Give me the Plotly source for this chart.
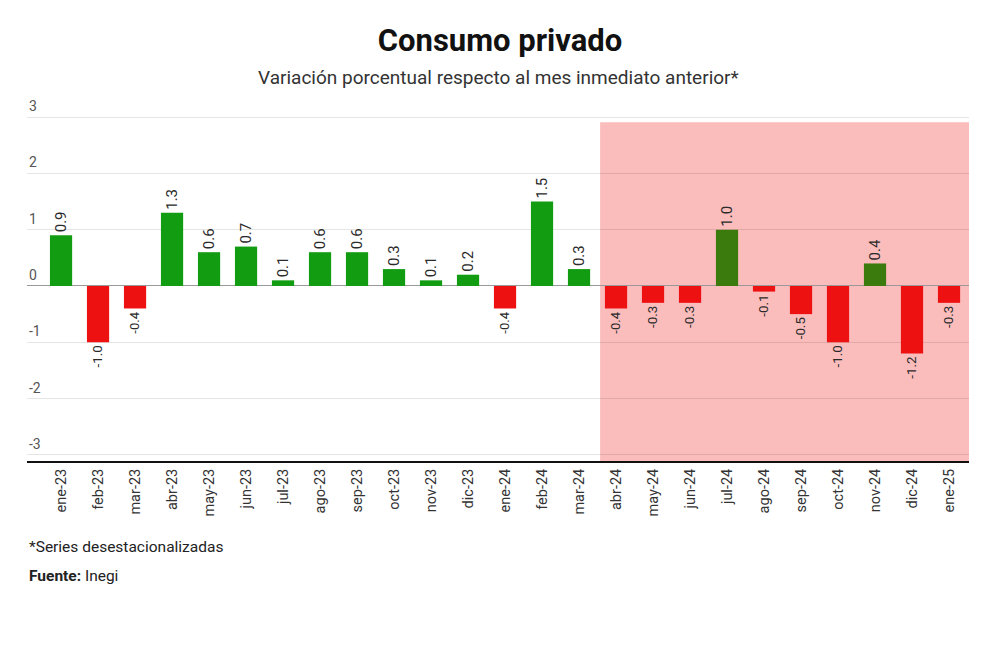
import plotly.graph_objects as go

# datos (variación % mensual, series desestacionalizadas)
meses = ["ene-23", "feb-23", "mar-23", "abr-23", "may-23", "jun-23", "jul-23",
         "ago-23", "sep-23", "oct-23", "nov-23", "dic-23", "ene-24", "feb-24",
         "mar-24", "abr-24", "may-24", "jun-24", "jul-24", "ago-24", "sep-24",
         "oct-24", "nov-24", "dic-24", "ene-25"]
variacion = [0.9, -1.0, -0.4, 1.3, 0.6, 0.7, 0.1, 0.6, 0.6, 0.3, 0.1, 0.2, -0.4,
             1.5, 0.3, -0.4, -0.3, -0.3, 1.0, -0.1, -0.5, -1.0, 0.4, -1.2, -0.3]
y_ticks = [-3, -2, -1, 0, 1, 2, 3]
inicio_sombra = "abr-24"

VERDE = "#129c12"
VERDE_OSC = "#3b7a0c"
ROJO = "#ee1111"
SOMBRA = "#fbbcbc"

i0 = meses.index(inicio_sombra)
colores = []
for i, v in enumerate(variacion):
    if v < 0:
        colores.append(ROJO)
    elif i >= i0:
        colores.append(VERDE_OSC)
    else:
        colores.append(VERDE)

fig = go.Figure()
fig.add_trace(go.Bar(
    x=list(range(len(meses))),
    y=variacion,
    marker=dict(color=colores, line=dict(width=0)),
    text=[f"{v:.1f}" for v in variacion],
    textposition="outside",
    textangle=-90,
    textfont=dict(family="Roboto", size=15, color="#2a2a2a"),
    cliponaxis=False,
    hoverinfo="skip",
))

# zona sombreada
fig.add_shape(type="rect", xref="x", yref="y",
              x0=i0 - 0.43, x1=24.54, y0=-3.11, y1=2.91,
              fillcolor=SOMBRA, line=dict(width=0), layer="below")

# etiquetas del eje y, encima de cada línea de la cuadrícula
for t in y_ticks:
    fig.add_annotation(text=str(t), xref="paper", yref="y", x=0, y=t,
                       xanchor="left", yanchor="bottom", yshift=1,
                       showarrow=False,
                       font=dict(family="Roboto", size=14, color="#555"))

fig.add_annotation(text="Variación porcentual respecto al mes inmediato anterior*",
                   xref="paper", yref="paper", x=0.5, y=1.113,
                   xanchor="center", yanchor="middle", showarrow=False,
                   font=dict(family="Roboto", size=19, color="#333"))
fig.add_annotation(text="*Series desestacionalizadas",
                   xref="paper", yref="paper", x=0, y=-0.25,
                   xanchor="left", yanchor="middle", showarrow=False,
                   font=dict(family="Roboto", size=15.5, color="#222"))
fig.add_annotation(text="<b>Fuente:</b> Inegi",
                   xref="paper", yref="paper", x=0, y=-0.334,
                   xanchor="left", yanchor="middle", showarrow=False,
                   font=dict(family="Roboto", size=15.5, color="#222"))

# la página añade 8 px de margen al cuerpo, se compensa aquí
fig.update_layout(
    width=984, height=644,
    paper_bgcolor="white", plot_bgcolor="rgba(0,0,0,0)",
    margin=dict(l=19, r=23, t=108, b=191),
    showlegend=False,
    bargap=0.4,
    title=dict(text="<b>Consumo privado</b>", x=0.5, xanchor="center",
               y=1 - 32 / 644, yanchor="middle",
               font=dict(family="Roboto", size=31, color="#111")),
    xaxis=dict(
        range=[-0.92, 24.54],
        tickmode="array", tickvals=list(range(len(meses))), ticktext=meses,
        tickangle=-90, tickfont=dict(family="Roboto", size=14.5, color="#333"),
        showgrid=False, showline=True, linecolor="#111", linewidth=2,
        ticks="", zeroline=False,
    ),
    yaxis=dict(
        range=[-3.11, 3.02],
        tickmode="array", tickvals=y_ticks, showticklabels=False,
        showgrid=True, gridcolor="rgba(0,0,0,0.1)", gridwidth=1,
        zeroline=True, zerolinecolor="#999", zerolinewidth=1,
        showline=False, ticks="",
    ),
)

fig.write_html("out.html")
